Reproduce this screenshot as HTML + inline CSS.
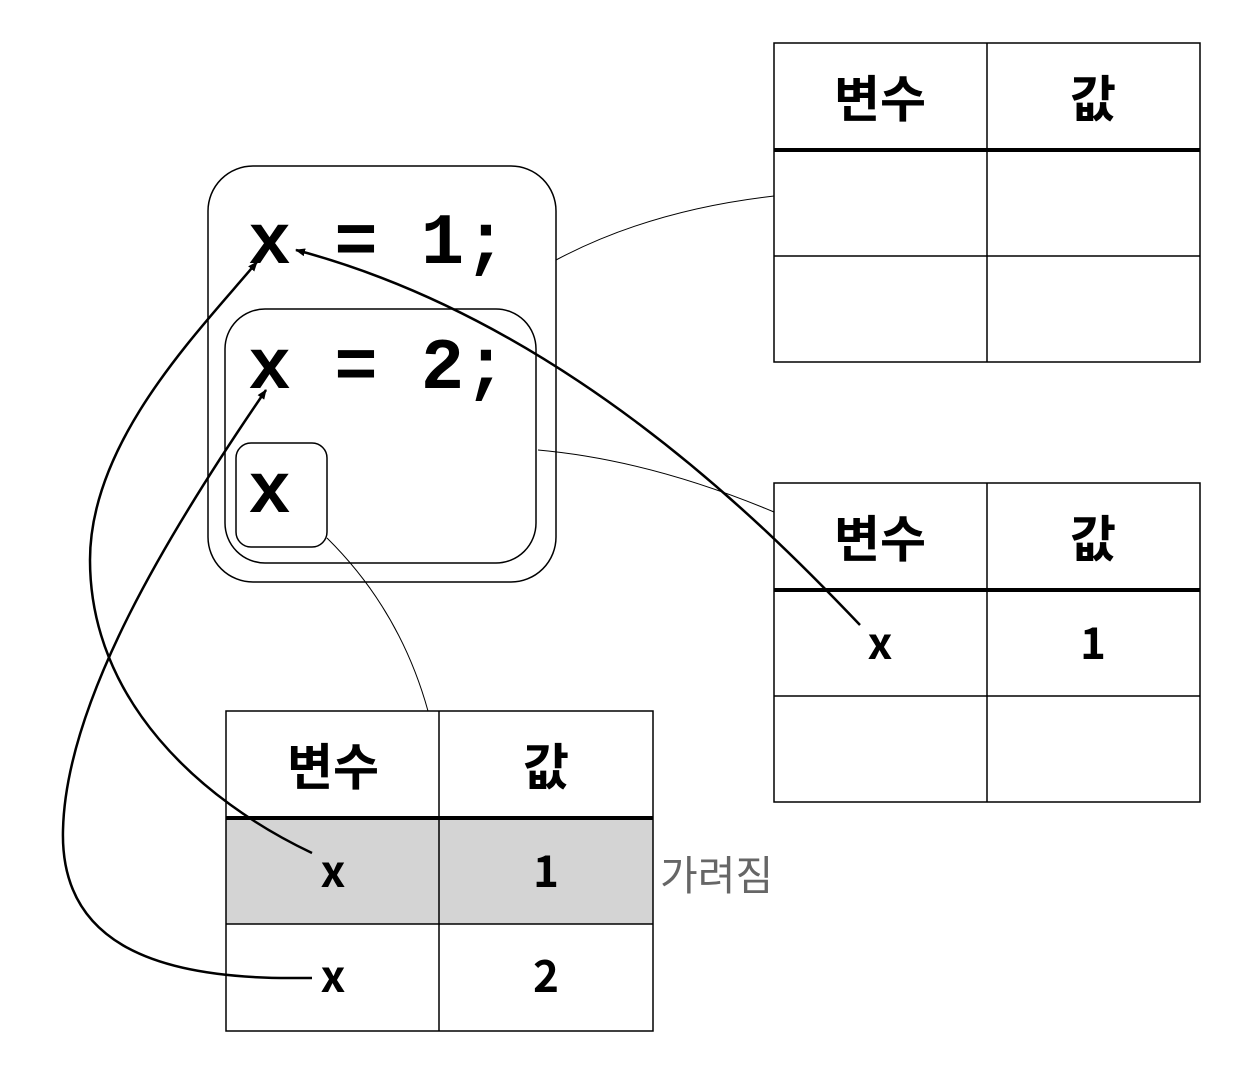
<!DOCTYPE html>
<html><head><meta charset="utf-8"><style>
html,body{margin:0;padding:0;background:#fff;}
svg{display:block;}
.code{font-family:"Liberation Mono",monospace;font-weight:bold;font-size:72px;fill:#000;}
.hd{font-family:"Liberation Sans","Noto Sans CJK KR",sans-serif;font-weight:bold;font-size:50px;fill:#000;}
.cell{font-family:"Noto Sans CJK KR",sans-serif;font-weight:bold;font-size:44px;fill:#000;}
.note{font-family:"Noto Sans CJK KR",sans-serif;font-size:41px;fill:#666;}
</style></head><body>
<svg width="1252" height="1071" viewBox="0 0 1252 1071" xmlns="http://www.w3.org/2000/svg">
<defs>
<marker id="ah" markerWidth="10" markerHeight="8" refX="9" refY="4" orient="auto" markerUnits="userSpaceOnUse">
<path d="M0,0 L10,4 L0,8 Z" fill="#000"/>
</marker>
</defs>
<rect x="208" y="166" width="348" height="416" rx="45" fill="none" stroke="#000" stroke-width="1.5"/>
<rect x="225" y="309" width="311" height="254" rx="40" fill="none" stroke="#000" stroke-width="1.5"/>
<rect x="236" y="443" width="91" height="104" rx="15" fill="none" stroke="#000" stroke-width="1.5"/>
<text class="code" x="248" y="263">x = 1;</text>
<text class="code" x="248" y="388">x = 2;</text>
<text class="code" x="248" y="512">x</text>

<path d="M556,260 Q650,210 774,196" fill="none" stroke="#000" stroke-width="1"/>
<path d="M538,450 Q650,460 774,512" fill="none" stroke="#000" stroke-width="1"/>
<path d="M327,538 Q400,610 428,711" fill="none" stroke="#000" stroke-width="1"/>

<g stroke="#000" fill="none">
<rect x="774" y="43" width="426" height="319" stroke-width="1.5"/>
<line x1="987" y1="43" x2="987" y2="362" stroke-width="1.5"/>
<line x1="774" y1="150" x2="1200" y2="150" stroke-width="4"/>
<line x1="774" y1="256" x2="1200" y2="256" stroke-width="1.5"/>
</g>
<text class="hd" x="880" y="117" text-anchor="middle">변수</text>
<text class="hd" x="1093" y="117" text-anchor="middle">값</text>

<g stroke="#000" fill="none">
<rect x="774" y="483" width="426" height="319" stroke-width="1.5"/>
<line x1="987" y1="483" x2="987" y2="802" stroke-width="1.5"/>
<line x1="774" y1="590" x2="1200" y2="590" stroke-width="4"/>
<line x1="774" y1="696" x2="1200" y2="696" stroke-width="1.5"/>
</g>
<text class="hd" x="880" y="557" text-anchor="middle">변수</text>
<text class="hd" x="1093" y="557" text-anchor="middle">값</text>
<text class="cell" x="880" y="659" text-anchor="middle">x</text>
<text class="cell" x="1093" y="659" text-anchor="middle">1</text>

<rect x="226" y="818" width="427" height="106" fill="#d4d4d4"/>
<g stroke="#000" fill="none">
<rect x="226" y="711" width="427" height="320" stroke-width="1.5"/>
<line x1="439" y1="711" x2="439" y2="1031" stroke-width="1.5"/>
<line x1="226" y1="818" x2="653" y2="818" stroke-width="4"/>
<line x1="226" y1="924" x2="653" y2="924" stroke-width="1.5"/>
</g>
<text class="hd" x="333" y="785" text-anchor="middle">변수</text>
<text class="hd" x="546" y="785" text-anchor="middle">값</text>
<text class="cell" x="333" y="887" text-anchor="middle">x</text>
<text class="cell" x="546" y="887" text-anchor="middle">1</text>
<text class="cell" x="333" y="992" text-anchor="middle">x</text>
<text class="cell" x="546" y="992" text-anchor="middle">2</text>
<text class="note" x="660" y="890">가려짐</text>

<path d="M860,625 C760,520 560,320 296,250" fill="none" stroke="#000" stroke-width="2.5" marker-end="url(#ah)"/>
<path d="M312,853 C200,800 90,700 90,560 C90,440 200,330 257,262" fill="none" stroke="#000" stroke-width="2.5" marker-end="url(#ah)"/>
<path d="M312,978 L290,978 C150,978 60,940 63,830 C66,700 170,530 266,390" fill="none" stroke="#000" stroke-width="2.5" marker-end="url(#ah)"/>
</svg>
</body></html>
